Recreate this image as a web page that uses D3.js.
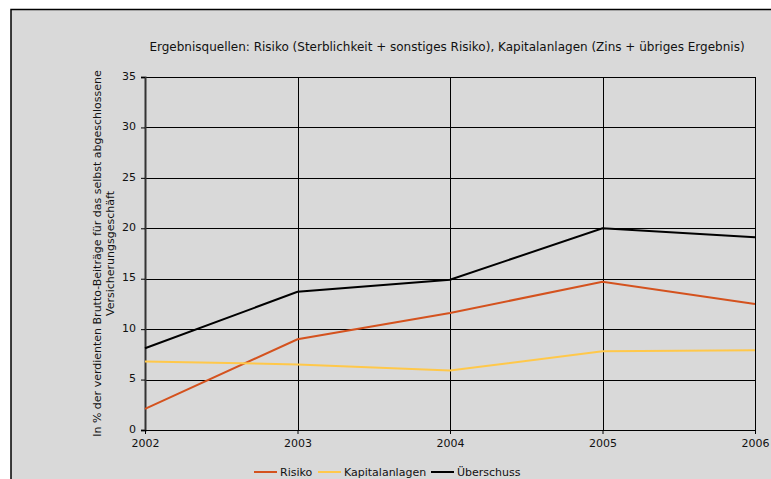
<!DOCTYPE html>
<html>
<head>
<meta charset="utf-8">
<script src="https://cdn.jsdelivr.net/npm/d3@7"></script>
<style>
  body { margin: 0; background: #fff; }
  svg { display: block; font-family: "DejaVu Sans", Verdana, sans-serif; }
</style>
</head>
<body>
<div id="chart"></div>
<script>
var years = [2002, 2003, 2004, 2005, 2006];
var risiko = [2.1, 9.0, 11.6, 14.7, 12.5];
var kapitalanlagen = [6.8, 6.5, 5.9, 7.8, 7.9];
var ueberschuss = [8.1, 13.7, 14.9, 20.0, 19.1];
var yTicks = [0, 5, 10, 15, 20, 25, 30, 35];
var seriesNames = ["Risiko", "Kapitalanlagen", "Überschuss"];
var seriesColors = ["#d4521e", "#ffc84a", "#000000"];

var width = 771, height = 479;
var plotLeft = 145, plotRight = 755, plotTop = 77, plotBottom = 430;

var svg = d3.select("#chart")
            .append("svg")
            .attr("width", width)
            .attr("height", height);

// Chart frame
svg.append("rect")
    .attr("x", 11)
    .attr("y", 9.5)
    .attr("width", 800)
    .attr("height", 500)
    .attr("fill", "#d9d9d9")
    .attr("stroke", "#000")
    .attr("stroke-width", 1.5);

var x = d3.scaleLinear().domain([2002, 2006]).range([plotLeft, plotRight]);
var y = d3.scaleLinear().domain([0, 35]).range([plotBottom, plotTop]);

// Grid lines
svg.append("g")
    .selectAll("line")
    .data(yTicks)
    .enter()
    .append("line")
    .attr("x1", plotLeft)
    .attr("x2", plotRight)
    .attr("y1", function(d) { return Math.round(y(d)) + 0.5; })
    .attr("y2", function(d) { return Math.round(y(d)) + 0.5; })
    .attr("stroke", "#000")
    .attr("stroke-width", 1);

svg.append("g")
    .selectAll("line")
    .data(years.slice(1))
    .enter()
    .append("line")
    .attr("x1", function(d) { return Math.round(x(d)) + 0.5; })
    .attr("x2", function(d) { return Math.round(x(d)) + 0.5; })
    .attr("y1", plotTop)
    .attr("y2", plotBottom)
    .attr("stroke", "#000")
    .attr("stroke-width", 1);

// Axes
var yAxis = d3.axisLeft(y).tickValues(yTicks).tickSize(4).tickPadding(5);
var gy = svg.append("g")
    .attr("transform", "translate(" + plotLeft + ",0)")
    .call(yAxis);
gy.select(".domain").attr("stroke", "#333").attr("stroke-width", 2);

var xAxis = d3.axisBottom(x).tickValues(years).tickFormat(d3.format("d")).tickSize(4).tickPadding(5);
var gx = svg.append("g")
    .attr("transform", "translate(0," + plotBottom + ")")
    .call(xAxis);
gx.select(".domain").attr("stroke", "#000");

svg.selectAll(".tick text")
    .attr("font-size", "11px")
    .attr("fill", "#111")
    .attr("font-family", "DejaVu Sans, Verdana, sans-serif");
svg.selectAll(".tick line").attr("stroke", "#000");
gy.selectAll(".tick text").attr("dy", "0.2em");

// Lines
var allSeries = [risiko, kapitalanlagen, ueberschuss];
var line = d3.line()
    .x(function(d, i) { return x(years[i]); })
    .y(function(d) { return y(d); });

svg.append("g")
    .selectAll("path")
    .data(allSeries)
    .enter()
    .append("path")
    .attr("d", line)
    .attr("fill", "none")
    .attr("stroke", function(d, i) { return seriesColors[i]; })
    .attr("stroke-width", 2);

// Title
svg.append("text")
    .attr("x", 447)
    .attr("y", 51)
    .attr("text-anchor", "middle")
    .attr("font-size", "12px")
    .attr("fill", "#111")
    .text("Ergebnisquellen: Risiko (Sterblichkeit + sonstiges Risiko), Kapitalanlagen (Zins + übriges Ergebnis)");

// Y axis title
var yTitle = svg.append("text")
    .attr("transform", "translate(101," + ((plotTop + plotBottom) / 2) + ") rotate(-90)")
    .attr("text-anchor", "middle")
    .attr("font-size", "11px")
    .attr("fill", "#111");
yTitle.append("tspan")
    .attr("x", 0).attr("y", 0)
    .text("In % der verdienten Brutto-Beiträge für das selbst abgeschlossene");
yTitle.append("tspan")
    .attr("x", 0).attr("y", 13)
    .text("Versicherungsgeschäft");

// Legend
var legendX = [254, 318, 431];
var legend = svg.append("g")
    .selectAll("g")
    .data(seriesNames)
    .enter()
    .append("g")
    .attr("transform", function(d, i) { return "translate(" + legendX[i] + ",472)"; });

legend.append("line")
    .attr("x1", 0)
    .attr("x2", 23)
    .attr("y1", 0)
    .attr("y2", 0)
    .attr("stroke", function(d, i) { return seriesColors[i]; })
    .attr("stroke-width", 2);

legend.append("text")
    .attr("x", 26)
    .attr("y", 4)
    .attr("font-size", "11px")
    .attr("fill", "#111")
    .text(function(d) { return d; });
</script>
</body>
</html>
